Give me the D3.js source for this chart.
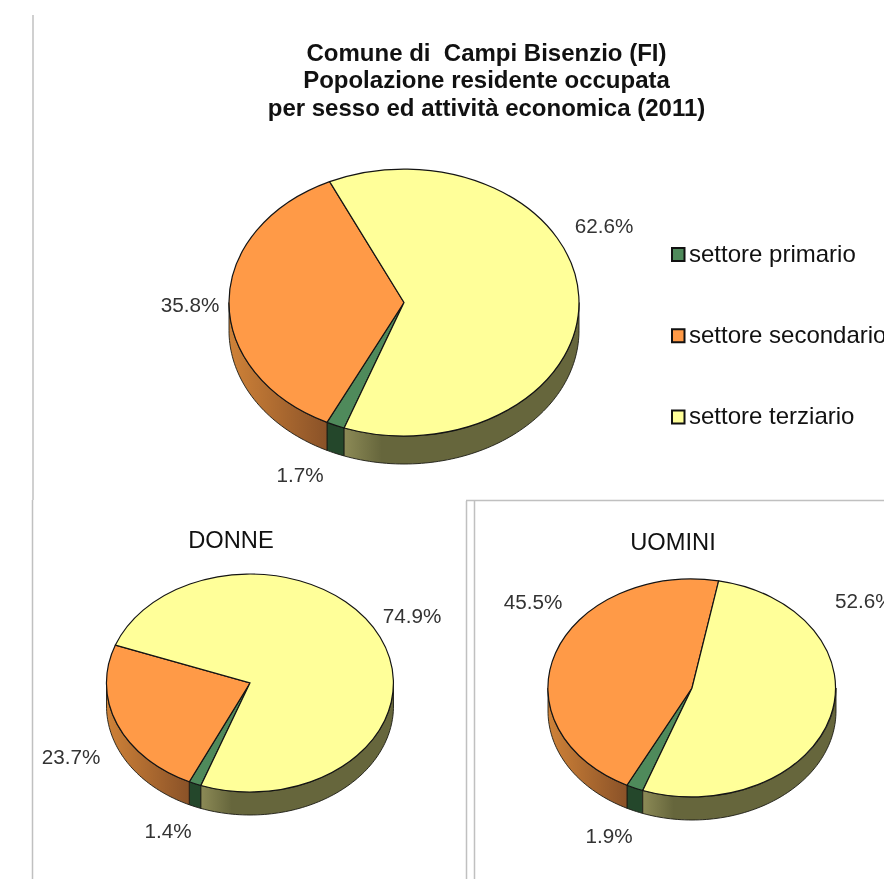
<!DOCTYPE html>
<html>
<head>
<meta charset="utf-8">
<script src="https://cdn.jsdelivr.net/npm/d3@7"></script>
<style>
html,body{margin:0;padding:0;background:#fff;overflow:hidden}
svg{display:block;filter:blur(0.45px)}
text{font-family:"Liberation Sans",Arial,sans-serif}
</style>
</head>
<body>
<svg id="chart" width="884" height="879"></svg>
<script>
const categories = ["settore primario", "settore secondario", "settore terziario"];
const totale = [1.7, 35.8, 62.6];
const donne = [1.4, 23.7, 74.9];
const uomini = [1.9, 45.5, 52.6];
const titleLines = ["Comune di  Campi Bisenzio (FI)", "Popolazione residente occupata", "per sesso ed attività economica (2011)"];
const colors = ["#4f8a5b", "#ff9a47", "#ffff99"];
const wallColors = ["#24472b", "url(#wallOrange)", "url(#wallYellow)"];

// layout, separate from the data
const panels = [
  {values: totale, cx: 404, cy: 302.5, rx: 175, ry: 133.5, depth: 28,
   labels: [[300, 482, "middle"], [190, 312, "middle"], [604, 233, "middle"]]},
  {values: donne, name: "DONNE", nameX: 231, nameY: 548, cx: 250, cy: 683, rx: 143.5, ry: 109, depth: 23,
   labels: [[168, 838, "middle"], [71, 764, "middle"], [412, 623, "middle"]]},
  {values: uomini, name: "UOMINI", nameX: 673, nameY: 550, cx: 692, cy: 688, rx: 144, ry: 109, depth: 23,
   labels: [[609, 843, "middle"], [533, 609, "middle"], [835, 608, "start"]]}
];

const svg = d3.select("#chart");
const defs = svg.append("defs");
const g1 = defs.append("linearGradient").attr("id", "wallOrange");
g1.append("stop").attr("offset", 0).attr("stop-color", "#cf8238");
g1.append("stop").attr("offset", 1).attr("stop-color", "#8a5228");
const g2 = defs.append("linearGradient").attr("id", "wallYellow");
g2.append("stop").attr("offset", 0).attr("stop-color", "#8c8a56");
g2.append("stop").attr("offset", 0.16).attr("stop-color", "#66663c");
g2.append("stop").attr("offset", 1).attr("stop-color", "#66663c");

// frame lines
const frames = [[33, 15, 33, 500], [32.5, 500, 32.5, 879], [466.5, 501, 466.5, 879], [474.5, 501, 474.5, 879], [466, 500.5, 884, 500.5]];
svg.selectAll("line.frame").data(frames).join("line").attr("class", "frame")
  .attr("x1", d => d[0]).attr("y1", d => d[1]).attr("x2", d => d[2]).attr("y2", d => d[3])
  .attr("stroke", "#c0c0c0").attr("stroke-width", 1.5);

// title
svg.selectAll("text.title").data(titleLines).join("text").attr("class", "title")
  .attr("x", 486.5).attr("y", (d, i) => [60.5, 88, 116][i])
  .attr("text-anchor", "middle").attr("font-size", 24).attr("font-weight", "bold").attr("fill", "#111")
  .attr("xml:space", "preserve").style("white-space", "pre").text(d => d);

const pie = d3.pie().sort(null).value(d => d)
  .startAngle(200 * Math.PI / 180).endAngle(560 * Math.PI / 180);
const arc = d3.arc().innerRadius(0).outerRadius(1);

panels.forEach(p => {
  const g = svg.append("g");
  const sx = d3.scaleLinear().domain([-1, 1]).range([p.cx - p.rx, p.cx + p.rx]);
  const sy = d3.scaleLinear().domain([-1, 1]).range([p.cy - p.ry, p.cy + p.ry]);
  const arcs = pie(p.values);

  // walls of the visible (front) half
  const lo = Math.PI / 2, hi = 3 * Math.PI / 2;
  const wall = d3.area()
    .x(t => sx(Math.sin(t)))
    .y0(t => sy(-Math.cos(t)))
    .y1(t => sy(-Math.cos(t)) + p.depth);
  arcs.forEach((a, i) => {
    [0, 2 * Math.PI].forEach(k => {
      const s = Math.max(a.startAngle, lo + k), e = Math.min(a.endAngle, hi + k);
      if (e <= s) return;
      const n = Math.max(2, Math.ceil((e - s) * 40));
      const ts = d3.range(n + 1).map(j => s + (e - s) * j / n);
      g.append("path").attr("d", wall(ts)).attr("fill", wallColors[i])
        .attr("stroke", "#1c1c14").attr("stroke-width", 0.9);
    });
  });

  // top face
  g.append("g").attr("transform", `translate(${p.cx},${p.cy}) scale(${p.rx},${p.ry})`)
    .selectAll("path").data(arcs).join("path")
    .attr("d", arc).attr("fill", (d, i) => colors[i])
    .attr("stroke", "#141414").attr("stroke-width", 1.2)
    .attr("vector-effect", "non-scaling-stroke");

  // value labels
  g.selectAll("text.val").data(p.values).join("text").attr("class", "val")
    .attr("x", (d, i) => p.labels[i][0]).attr("y", (d, i) => p.labels[i][1])
    .attr("text-anchor", (d, i) => p.labels[i][2])
    .attr("font-size", 20.7).attr("fill", "#333")
    .text(d => d.toFixed(1) + "%");

  if (p.name) {
    g.append("text").attr("x", p.nameX).attr("y", p.nameY).attr("text-anchor", "middle")
      .attr("font-size", 23.7).attr("fill", "#111").text(p.name);
  }
});

// legend
const legendY = d3.scalePoint().domain(categories).range([254.5, 417]);
const lg = svg.selectAll("g.legend").data(categories).join("g").attr("class", "legend")
  .attr("transform", d => `translate(0,${legendY(d)})`);
lg.append("rect").attr("x", 672).attr("y", -6.5).attr("width", 12.5).attr("height", 13)
  .attr("fill", (d, i) => colors[i]).attr("stroke", "#111").attr("stroke-width", 2);
lg.append("text").attr("x", 689).attr("y", 7).attr("font-size", 24).attr("fill", "#111").text(d => d);
</script>
</body>
</html>
